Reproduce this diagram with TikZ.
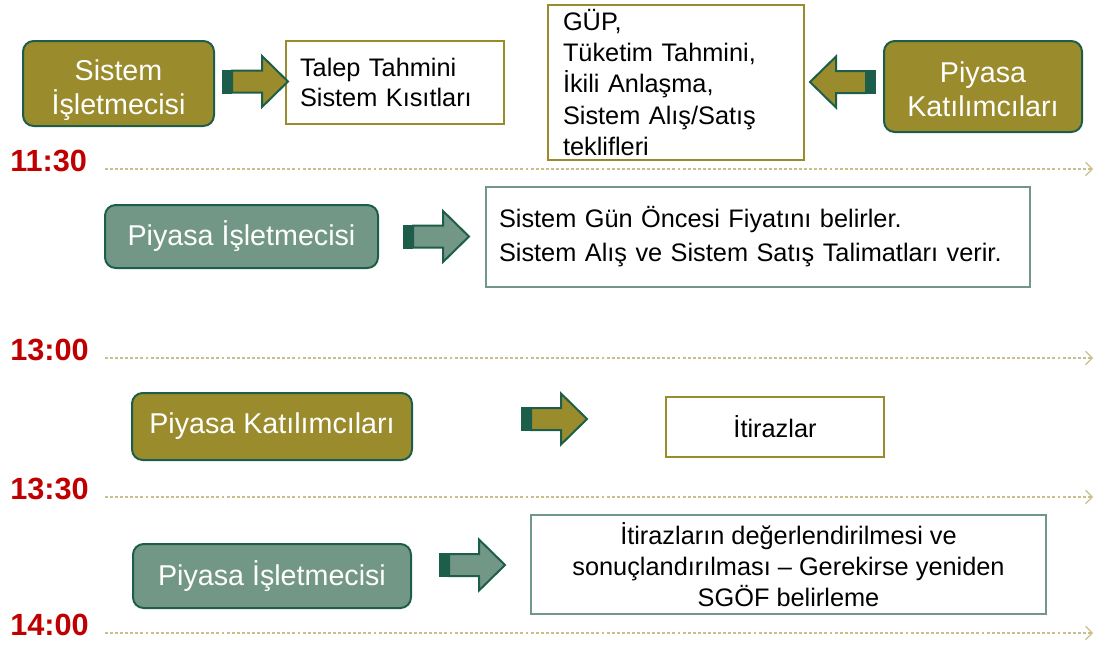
\documentclass[tikz,border=0pt]{standalone}
\usepackage{fontspec}
\setmainfont{Liberation Sans}
\usepackage{tikz}
\usetikzlibrary{arrows.meta}
\definecolor{olivebox}{HTML}{9A8B2C}
\definecolor{dkgreen}{HTML}{1D5E4A}
\definecolor{tealbox}{HTML}{739787}
\definecolor{timered}{HTML}{C00000}
\definecolor{dotline}{HTML}{C8BF8C}
% block arrow: position, direction (1 or -1), fill
\newcommand{\blockarrow}[3]{%
  \begin{scope}[shift={#1},xscale=#2]
    \fill[dkgreen] (0,-12) rectangle (10,12);
    \draw[dkgreen,line width=1.5pt,fill=#3,line join=miter]
      (10,-11) -- (40,-11) -- (40,-25.5) -- (66,0) -- (40,25.5)
      -- (40,11) -- (10,11) -- cycle;
  \end{scope}}

\begin{document}
\begin{tikzpicture}[x=0.75pt,y=-0.75pt,
  boxsize/.style 2 args={minimum width=#1*0.75pt,minimum height=#2*0.75pt},
  actor/.style={draw=dkgreen,line width=1.5pt,rounded corners=8pt,
    text=white,align=center,inner sep=0pt,
    font=\fontsize{21.5}{25.5}\selectfont},
  infobox/.style={draw,line width=1.5pt,fill=white,inner sep=0pt,
    font=\fontsize{19}{23}\selectfont},
  timelabel/.style={anchor=base west,text=timered,inner sep=0pt,
    font=\fontsize{23}{26}\selectfont\bfseries},
  timeline/.style={dotline,line width=0.9pt,dash pattern=on 2.2pt off 1.6pt,
    -{Straight Barb[length=5pt,width=10pt]}}]
  \useasboundingbox (0,0) rectangle (1098,644);

  % 11:30 row
  \node[actor,fill=olivebox,boxsize={191}{85}] (si) at (118.5,83.5)
    {\rule{0pt}{25pt}Sistem\\İşletmecisi};
  \node[infobox,draw=olivebox,boxsize={218}{83},text width=190*0.75pt,
        align=left] (tt) at (395,82.5)
    {Talep Tahmini\\Sistem Kısıtları};
  \node[infobox,draw=olivebox,boxsize={256}{155},text width=226*0.75pt,
        align=left,font=\fontsize{19}{23.3}\selectfont] (gup) at (676,82.5)
    {GÜP,\\Tüketim Tahmini,\\İkili Anlaşma,\\Sistem Alış/Satış\\teklifleri};
  \node[actor,fill=olivebox,boxsize={198}{91}] (pk1) at (983,86.5)
    {\rule{0pt}{19pt}Piyasa\\Katılımcıları};
  \blockarrow{(222,81.5)}{1}{olivebox}
  \blockarrow{(876,82)}{-1}{olivebox}

  \node[timelabel] (t1) at (10,171) {11:30};
  \coordinate (l1s) at (105,169);
  \coordinate (l1e) at (1093,169);
  \draw[timeline] (l1s) -- (l1e);

  % 13:00 row
  \node[actor,fill=tealbox,boxsize={273}{63}] (pi1) at (241.5,236.5)
    {Piyasa İşletmecisi};
  \node[infobox,draw=tealbox,boxsize={544}{100},text width=518*0.75pt,
        align=left,font=\fontsize{19}{25.5}\selectfont] (sgo) at (758,237)
    {Sistem Gün Öncesi Fiyatını belirler.\\
     Sistem Alış ve Sistem Satış Talimatları verir.};
  \blockarrow{(403,236.5)}{1}{tealbox}

  \node[timelabel] (t2) at (10,360) {13:00};
  \coordinate (l2s) at (105,358);
  \coordinate (l2e) at (1093,358);
  \draw[timeline] (l2s) -- (l2e);

  % 13:30 row
  \node[actor,fill=olivebox,boxsize={280}{67}] (pk2) at (272,426.5)
    {Piyasa Katılımcıları};
  \node[infobox,draw=olivebox,boxsize={218}{60},align=center] (itz)
    at (775,427) {İtirazlar};
  \blockarrow{(521,419)}{1}{olivebox}

  \node[timelabel] (t3) at (10,499) {13:30};
  \coordinate (l3s) at (105,497);
  \coordinate (l3e) at (1093,497);
  \draw[timeline] (l3s) -- (l3e);

  % 14:00 row
  \node[actor,fill=tealbox,boxsize={278}{64}] (pi2) at (272,576)
    {Piyasa İşletmecisi};
  \node[infobox,draw=tealbox,boxsize={515}{99},align=center,
        font=\fontsize{19}{23}\selectfont] (ide) at (788.5,564.5)
    {İtirazların değerlendirilmesi ve\\
     sonuçlandırılması -- Gerekirse yeniden\\SGÖF belirleme};
  \blockarrow{(439,565)}{1}{tealbox}

  \node[timelabel] (t4) at (10,635) {14:00};
  \coordinate (l4s) at (105,633);
  \coordinate (l4e) at (1093,633);
  \draw[timeline] (l4s) -- (l4e);
\end{tikzpicture}
\end{document}
